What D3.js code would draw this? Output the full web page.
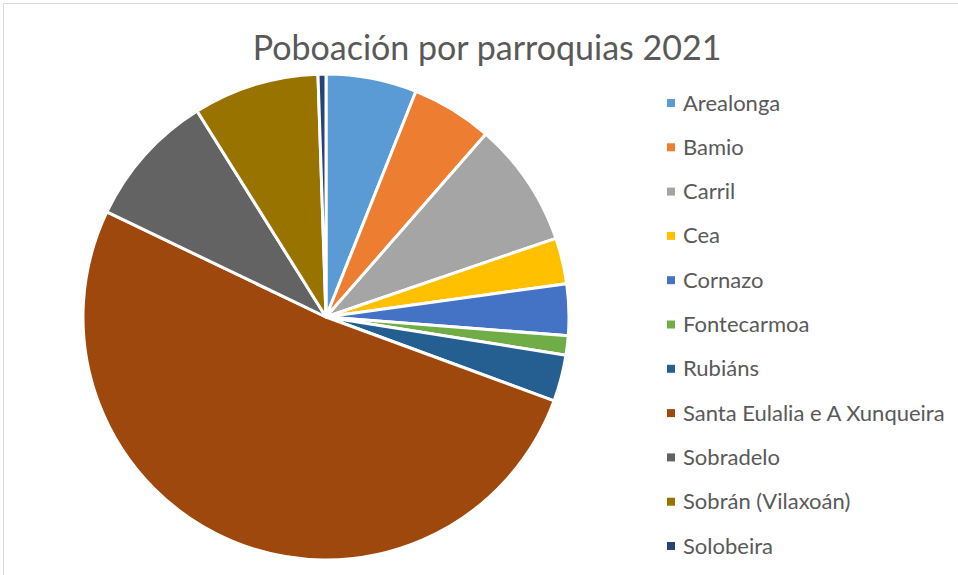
<!DOCTYPE html>
<html>
<head>
<meta charset="utf-8">
<script src="https://cdn.jsdelivr.net/npm/d3@7"></script>
<style>
  body { margin: 0; background: #fff; }
  svg { display: block; }
</style>
</head>
<body>
<div id="chart"></div>
<script>
// Parishes and 2021 population
const parishes = ["Arealonga", "Bamio", "Carril", "Cea", "Cornazo", "Fontecarmoa",
  "Rubiáns", "Santa Eulalia e A Xunqueira", "Sobradelo", "Sobrán (Vilaxoán)", "Solobeira"];
const population = [2255, 2016, 3107, 1143, 1278, 480, 1153, 19242, 3356, 3127, 197];
const colors = ["#5b9bd5", "#ed7d31", "#a5a5a5", "#ffc000", "#4472c4", "#70ad47",
  "#255e91", "#9e480e", "#636363", "#997300", "#264478"];

const width = 958, height = 575;
const cx = 326, cy = 317, radius = 243;

const svg = d3.select("#chart").append("svg")
  .attr("width", width)
  .attr("height", height);

// chart area frame
svg.append("rect")
  .attr("x", 3.5).attr("y", 3.5)
  .attr("width", 1000).attr("height", 1000)
  .attr("fill", "#fff")
  .attr("stroke", "#d9d9d9");

// title
svg.append("text")
  .attr("x", 487)
  .attr("y", 60)
  .attr("text-anchor", "middle")
  .attr("fill", "#595959")
  .style("font-family", "Lato, 'Open Sans', sans-serif")
  .style("font-size", "34px")
  .text("Poboación por parroquias 2021");

const data = parishes.map((p, i) => ({ name: p, value: population[i] }));
const color = d3.scaleOrdinal().domain(parishes).range(colors);

const pie = d3.pie().sort(null).value(d => d.value);
const arc = d3.arc().innerRadius(0).outerRadius(radius);

svg.append("g")
  .attr("transform", `translate(${cx},${cy})`)
  .selectAll("path")
  .data(pie(data))
  .join("path")
  .attr("d", arc)
  .attr("fill", d => color(d.data.name))
  .attr("stroke", "#fff")
  .attr("stroke-width", 3)
  .attr("stroke-linejoin", "round");

// legend
const legend = svg.append("g").attr("transform", "translate(667,103)");
const rowH = 44.3;

parishes.forEach((p, i) => {
  legend.append("rect")
    .attr("x", 0)
    .attr("y", i * rowH - 4)
    .attr("width", 8)
    .attr("height", 8)
    .attr("fill", color(p));

  legend.append("text")
    .attr("x", 16)
    .attr("y", i * rowH + 7.5)
    .attr("fill", "#595959")
    .style("font-family", "Lato, 'Open Sans', sans-serif")
    .style("font-size", "22px")
    .text(p);
});
</script>
</body>
</html>
